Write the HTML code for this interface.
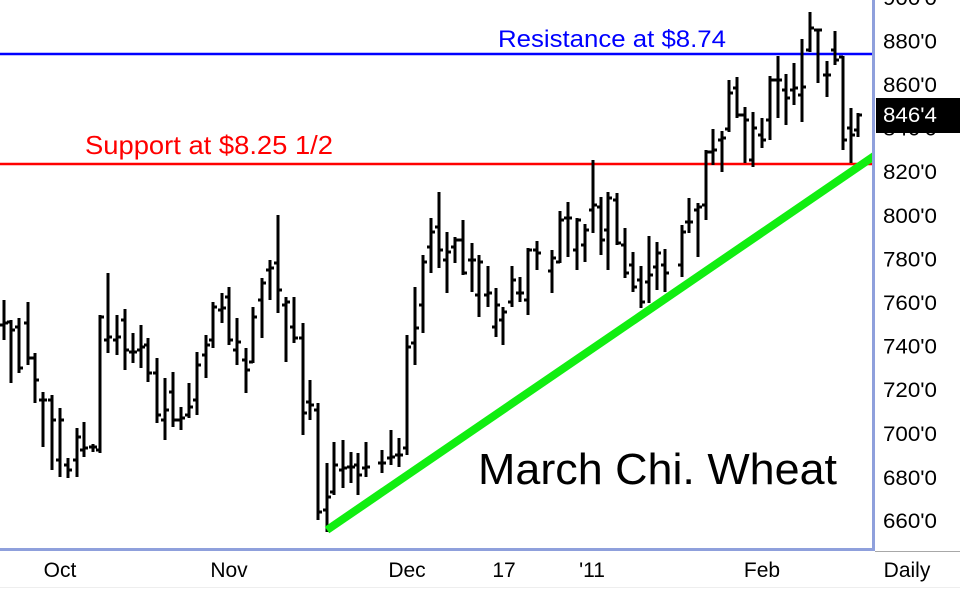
<!DOCTYPE html>
<html>
<head>
<meta charset="utf-8">
<style>
html,body{margin:0;padding:0;background:#fff;}
svg{display:block;}
text{font-family:"Liberation Sans","DejaVu Sans",sans-serif;}
</style>
</head>
<body>
<svg width="960" height="589" viewBox="0 0 960 589" xmlns="http://www.w3.org/2000/svg">
<defs>
<clipPath id="plot"><rect x="0" y="0" width="872" height="548"/></clipPath>
</defs>
<rect x="0" y="0" width="960" height="589" fill="#fff"/>
<line x1="0" y1="54" x2="872" y2="54" stroke="#0000ff" stroke-width="2.6"/>
<line x1="0" y1="164" x2="872" y2="164" stroke="#ff0000" stroke-width="2.6"/>
<g clip-path="url(#plot)">
<path fill="none" stroke="#000" stroke-width="3" shape-rendering="crispEdges" d="M4 300V340M0 325H4M4 323H8 M11 320V383M7 322H11M11 330H15 M19 318V373M15 327H19M19 368H23 M28 302V365M24 323H28M28 358H32 M35 353V403M31 358H35M35 380H39 M43 392V447M39 400H43M43 400H47 M52 395V470M48 400H52M52 420H56 M60 408V477M56 460H60M60 420H64 M68 458V478M64 465H68M68 470H72 M77 428V477M73 460H77M77 437H81 M84 422V457M80 450H84M84 448H88 M93 444V452M89 447H93M93 447H97 M100 315V453M96 450H100M100 317H104 M108 273V353M104 340H108M108 337H112 M117 315V355M113 340H117M117 337H121 M125 309V370M121 320H125M125 350H129 M133 333V363M129 352H133M133 352H137 M141 325V368M137 350H141M141 347H145 M148 338V382M144 345H148M148 373H152 M157 358V423M153 373H157M157 415H161 M165 378V440M161 420H165M165 410H169 M173 372V427M169 392H173M173 420H177 M181 407V430M177 420H181M181 418H185 M189 383V418M185 415H189M189 407H193 M197 352V415M193 400H197M197 365H201 M206 335V378M202 355H206M206 345H210 M213 302V348M209 340H213M213 307H217 M222 293V323M218 310H222M222 308H226 M229 287V345M225 297H229M229 340H233 M237 318V365M233 350H237M237 342H241 M246 348V393M242 360H246M246 370H250 M253 307V363M249 362H253M253 317H257 M262 278V338M258 300H262M262 283H266 M270 260V300M266 270H270M270 268H274 M278 215V313M274 263H278M278 290H282 M286 297V362M282 305H286M286 302H290 M294 297V343M290 327H294M294 338H298 M303 323V435M299 338H303M303 413H307 M310 380V420M306 402H310M310 405H314 M318 403V520M314 410H318M318 512H322 M327 463V532M323 510H327M327 497H331 M334 442V495M330 492H334M334 465H338 M343 440V488M339 470H343M343 468H347 M351 452V483M347 467H351M351 467H355 M358 453V495M354 465H358M358 475H362 M366 442V477M362 468H366M366 467H370 M382 450V473M378 463H382M382 463H386 M391 430V465M387 458H391M391 457H395 M399 438V467M395 455H399M399 455H403 M407 335V455M403 448H407M407 347H411 M415 287V365M411 343H415M415 328H419 M423 255V333M419 305H423M423 262H427 M431 218V273M427 247H431M431 232H435 M439 192V268M435 227H439M439 250H443 M447 232V293M443 260H447M447 252H451 M455 237V263M451 247H455M455 240H459 M463 220V275M459 240H463M463 273H467 M472 243V292M468 260H472M472 260H476 M479 255V317M475 295H479M479 262H483 M488 266V307M484 295H488M488 293H492 M496 288V337M492 327H496M496 305H500 M503 307V345M499 320H503M503 312H507 M512 266V307M508 302H512M512 280H516 M520 277V302M516 293H520M520 293H524 M528 248V315M524 300H528M528 250H532 M537 241V270M533 250H537M537 253H541 M552 250V293M548 271H552M552 258H556 M560 211V263M556 262H560M560 220H564 M568 202V257M564 218H568M568 218H572 M577 218V270M573 250H577M577 220H581 M585 224V262M581 245H585M585 230H589 M593 160V233M589 210H593M593 205H597 M601 197V255M597 207H601M601 240H605 M608 192V270M604 230H608M608 198H612 M617 193V245M613 200H617M617 243H621 M625 228V278M621 245H625M625 273H629 M633 252V292M629 265H633M633 287H637 M641 266V308M637 280H641M641 302H645 M649 236V303M645 282H649M649 275H653 M657 242V290M653 267H657M657 253H661 M665 249V292M661 265H665M665 273H669 M682 225V277M678 265H682M682 232H686 M689 198V233M685 222H689M689 222H693 M698 203V257M694 210H698M698 207H702 M706 150V220M702 205H706M706 152H710 M713 129V165M709 152H713M713 150H717 M722 131V172M718 140H722M722 138H726 M729 80V132M725 129H729M729 93H733 M737 77V118M733 88H737M737 115H741 M745 107V163M741 115H745M745 120H749 M753 112V167M749 160H753M753 128H757 M762 118V148M758 135H762M762 140H766 M770 76V140M766 120H770M770 80H774 M778 56V118M774 80H778M778 80H782 M786 74V125M782 90H786M786 98H790 M794 63V105M790 90H794M794 88H798 M802 39V122M798 95H802M802 87H806 M810 12V52M806 50H810M810 28H814 M818 29V83M814 30H818M818 30H822 M827 61V97M823 75H827M827 75H831 M835 31V65M831 50H835M835 60H839 M843 56V150M839 57H843M843 140H847 M851 108V163M847 128H851M851 135H855 M858 113V137M854 130H858M858 115H862"/>
<line x1="327" y1="530" x2="880" y2="152" stroke="#11ee11" stroke-width="8"/>
</g>
<text x="498" y="47" font-size="24" fill="#0000ff" textLength="228" lengthAdjust="spacingAndGlyphs">Resistance at $8.74</text>
<text x="85" y="154" font-size="26" fill="#ff0000" textLength="248" lengthAdjust="spacingAndGlyphs">Support at $8.25 1/2</text>
<text x="478" y="484" font-size="44" fill="#000" textLength="359" lengthAdjust="spacingAndGlyphs">March Chi. Wheat</text>
<rect x="872" y="0" width="3" height="551" fill="#8fa0dc"/>
<rect x="0" y="548" width="875" height="3" fill="#8fa0dc"/>
<rect x="875" y="551" width="85" height="1" fill="#a8a8a8"/>
<rect x="0" y="587" width="960" height="1" fill="#eeeeee"/>
<g font-size="21" fill="#000">
<text x="883" y="5" textLength="54" lengthAdjust="spacingAndGlyphs">900'0</text>
<text x="883" y="48.5" textLength="54" lengthAdjust="spacingAndGlyphs">880'0</text>
<text x="883" y="92" textLength="54" lengthAdjust="spacingAndGlyphs">860'0</text>
<text x="883" y="135.5" textLength="54" lengthAdjust="spacingAndGlyphs">840'0</text>
<text x="883" y="179" textLength="54" lengthAdjust="spacingAndGlyphs">820'0</text>
<text x="883" y="223" textLength="54" lengthAdjust="spacingAndGlyphs">800'0</text>
<text x="883" y="266.5" textLength="54" lengthAdjust="spacingAndGlyphs">780'0</text>
<text x="883" y="310" textLength="54" lengthAdjust="spacingAndGlyphs">760'0</text>
<text x="883" y="353.5" textLength="54" lengthAdjust="spacingAndGlyphs">740'0</text>
<text x="883" y="397" textLength="54" lengthAdjust="spacingAndGlyphs">720'0</text>
<text x="883" y="441" textLength="54" lengthAdjust="spacingAndGlyphs">700'0</text>
<text x="883" y="485" textLength="54" lengthAdjust="spacingAndGlyphs">680'0</text>
<text x="883" y="528" textLength="54" lengthAdjust="spacingAndGlyphs">660'0</text>
</g>
<rect x="876" y="98" width="84" height="35" fill="#000"/>
<text x="883" y="122" font-size="21" fill="#fff" textLength="54" lengthAdjust="spacingAndGlyphs">846'4</text>
<g font-size="21" fill="#000" text-anchor="middle">
<text x="60" y="577">Oct</text>
<text x="229" y="577">Nov</text>
<text x="407" y="577">Dec</text>
<text x="504" y="577">17</text>
<text x="592" y="577">'11</text>
<text x="762" y="577">Feb</text>
<text x="907" y="577">Daily</text>
</g>
</svg>
</body>
</html>
